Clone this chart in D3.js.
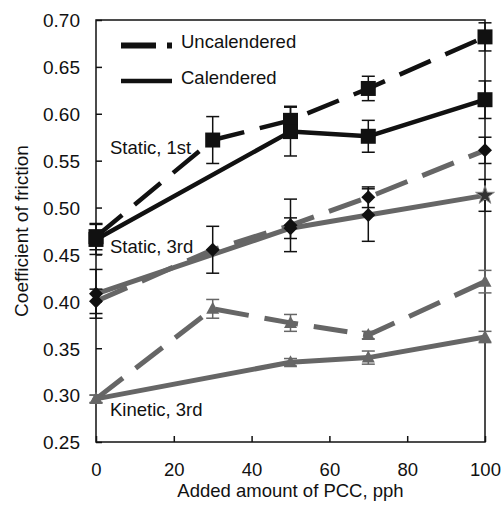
<!DOCTYPE html>
<html><head><meta charset="utf-8">
<script src="https://cdn.jsdelivr.net/npm/d3@7"></script>
<style>
html,body{margin:0;padding:0;background:#fff;}
text{font-family:"Liberation Sans",Arial,Helvetica,sans-serif;fill:#111;}
</style></head>
<body><svg id="c" width="501" height="516"></svg>
<script>
// ---------- data ----------
const xFull = [0, 30, 50, 70, 100];
const xCal  = [0, 50, 70, 100];

const uncalStatic1 = [0.469, 0.572, 0.593, 0.627, 0.682];
const uncalStatic1Err = [0.014, 0.025, 0.015, 0.013, 0.015];
const calStatic1 = [0.466, 0.581, 0.576, 0.615];
const calStatic1Err = [0.016, 0.026, 0.017, 0.020];

const uncalStatic3 = [0.400, 0.455, 0.481, 0.511, 0.561];
const uncalStatic3Err = [0.013, 0.025, 0.028, 0.011, 0.014];
const calStatic3 = [0.408, 0.478, 0.492, 0.513];
const calStatic3Err = [0.026, 0.011, 0.028, 0.017];

const uncalKinetic3 = [0.296, 0.392, 0.377, 0.364, 0.421];
const uncalKinetic3Err = [0.004, 0.010, 0.009, 0.004, 0.012];
const calKinetic3 = [0.296, 0.335, 0.340, 0.362];
const calKinetic3Err = [0.004, 0.004, 0.007, 0.006];

const yTicks = [0.25, 0.30, 0.35, 0.40, 0.45, 0.50, 0.55, 0.60, 0.65, 0.70];
const xTicks = [0, 20, 40, 60, 80, 100];
const legendLabels = ["Uncalendered", "Calendered"];
const seriesLabels = [
  {text: "Static, 1st", x: 3.6, y: 0.557},
  {text: "Static, 3rd", x: 3.6, y: 0.4515},
  {text: "Kinetic, 3rd", x: 3.6, y: 0.2775}
];
const xTitle = "Added amount of PCC, pph";
const yTitle = "Coefficient of friction";

// ---------- layout ----------
const L = 96, R = 485, T = 20, B = 442;
const BLACK = "#111", GRAY = "#666";
const FS = 18.5;
const svg = d3.select("#c");
const x = d3.scaleLinear().domain([0, 100]).range([L, R]);
const y = d3.scaleLinear().domain([0.25, 0.70]).range([B, T]);

// frame
svg.append("rect").attr("x", L).attr("y", T).attr("width", R - L).attr("height", B - T)
  .attr("fill", "none").attr("stroke", BLACK).attr("stroke-width", 1.5);

// axes (inward ticks)
const yAxis = d3.axisLeft(y).tickValues(yTicks).tickFormat(d3.format(".2f")).tickSizeInner(-6).tickSizeOuter(0).tickPadding(16);
const gy = svg.append("g").attr("transform", `translate(${L},0)`).call(yAxis);
const xAxis = d3.axisBottom(x).tickValues(xTicks).tickFormat(d3.format("d")).tickSizeInner(-6).tickSizeOuter(0).tickPadding(21);
const gx = svg.append("g").attr("transform", `translate(0,${B})`).call(xAxis);
[gx, gy].forEach(g => {
  g.select(".domain").remove();
  g.selectAll(".tick line").attr("stroke", BLACK).attr("stroke-width", 1.5);
  g.selectAll(".tick text").attr("font-size", 19).attr("fill", BLACK)
    .attr("font-family", '"Liberation Sans", Arial, sans-serif');
});
gx.selectAll(".tick text").attr("font-size", FS);
gy.selectAll(".tick text").attr("dy", "0.36em");
gx.selectAll(".tick text").attr("dy", "0.71em");

// titles
svg.append("text").attr("x", (L + R) / 2).attr("y", 497).attr("text-anchor", "middle")
  .attr("font-size", FS).text(xTitle);
svg.append("text").attr("transform", `translate(28,${(T + B) / 2}) rotate(-90)`)
  .attr("text-anchor", "middle").attr("font-size", 19).text(yTitle);

// ---------- series ----------
function mk(xs, ys, es) { return xs.map((v, i) => ({x: v, y: ys[i], e: es[i]})); }
const series = [
  {d: mk(xFull, uncalKinetic3, uncalKinetic3Err), color: GRAY, dash: "34,16", w: 5, marker: "tri", mcol: GRAY, ecol: GRAY},
  {d: mk(xCal, calKinetic3, calKinetic3Err), color: GRAY, dash: null, w: 5, marker: "tri", mcol: GRAY, ecol: GRAY},
  {d: mk(xFull, uncalStatic3, uncalStatic3Err), color: GRAY, dash: "34,16", w: 5, marker: "dia", mcol: BLACK, ecol: BLACK},
  {d: mk(xCal, calStatic3, calStatic3Err), color: GRAY, dash: null, w: 5, marker: "dia", mcol: BLACK, ecol: BLACK, lastStar: true},
  {d: mk(xFull, uncalStatic1, uncalStatic1Err), color: BLACK, dash: "34,16", w: 4.5, marker: "sq", mcol: BLACK, ecol: BLACK},
  {d: mk(xCal, calStatic1, calStatic1Err), color: BLACK, dash: null, w: 4.5, marker: "sq", mcol: BLACK, ecol: BLACK}
];
const line = d3.line().x(d => x(d.x)).y(d => y(d.y));

// lines
series.forEach(s => {
  svg.append("path").datum(s.d).attr("d", line).attr("fill", "none")
    .attr("stroke", s.color).attr("stroke-width", s.w)
    .attr("stroke-dasharray", s.dash).attr("stroke-linejoin", "round");
});
// error bars
series.forEach(s => {
  const g = svg.append("g").attr("stroke", s.ecol).attr("stroke-width", 1.5);
  s.d.forEach(d => {
    const cx = x(d.x), y1 = y(d.y + d.e), y2 = y(d.y - d.e);
    g.append("line").attr("x1", cx).attr("x2", cx).attr("y1", y1).attr("y2", y2);
    g.append("line").attr("x1", cx - 6.5).attr("x2", cx + 6.5).attr("y1", y1).attr("y2", y1);
    g.append("line").attr("x1", cx - 6.5).attr("x2", cx + 6.5).attr("y1", y2).attr("y2", y2);
  });
});
// markers
const shapes = {
  sq: "M-7.5,-7.5H7.5V7.5H-7.5Z",
  dia: "M0,-7L7,0L0,7L-7,0Z",
  tri: "M0,-7L6.5,5L-6.5,5Z"
};
series.forEach(s => {
  s.d.forEach((d, i) => {
    if (s.lastStar && i === s.d.length - 1) {
      svg.append("path").attr("d", d3.symbol().type(d3.symbolStar).size(110)())
        .attr("transform", `translate(${x(d.x)},${y(d.y)})`)
        .attr("fill", "#333").attr("stroke", "#888").attr("stroke-width", 1);
    } else {
      svg.append("path").attr("d", shapes[s.marker])
        .attr("transform", `translate(${x(d.x)},${y(d.y)})`).attr("fill", s.mcol);
    }
  });
});

// series labels
seriesLabels.forEach(l => {
  svg.append("text").attr("x", x(l.x)).attr("y", y(l.y)).attr("font-size", FS).text(l.text);
});

// legend
const legY = [45.5, 81];
svg.append("line").attr("x1", 121).attr("x2", 172).attr("y1", legY[0]).attr("y2", legY[0])
  .attr("stroke", BLACK).attr("stroke-width", 6).attr("stroke-dasharray", "35,11");
svg.append("line").attr("x1", 121).attr("x2", 172).attr("y1", legY[1]).attr("y2", legY[1])
  .attr("stroke", BLACK).attr("stroke-width", 4.5);
legendLabels.forEach((t, i) => {
  svg.append("text").attr("x", 181).attr("y", legY[i] + 2.5).attr("font-size", FS).text(t);
});
</script></body></html>
